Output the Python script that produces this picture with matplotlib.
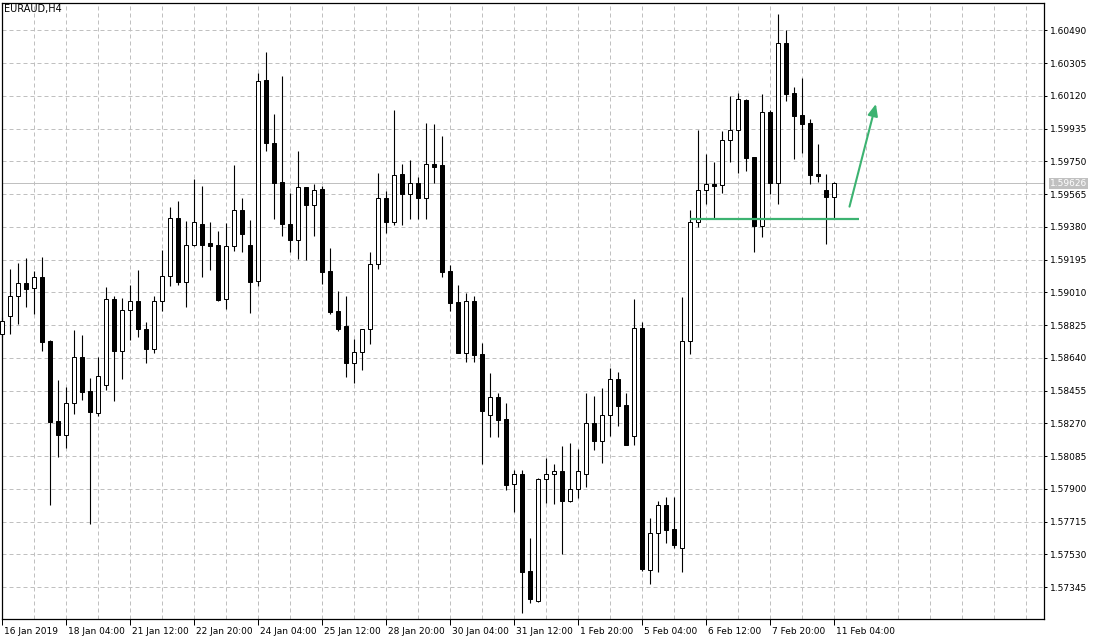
import matplotlib
matplotlib.use('Agg')
import matplotlib.pyplot as plt
from matplotlib.patches import Rectangle
import matplotlib.transforms as mtransforms

# ---------------- data ----------------
symbol = "EURAUD,H4"
time_labels = ["16 Jan 2019", "18 Jan 04:00", "21 Jan 12:00", "22 Jan 20:00", "24 Jan 04:00",
               "25 Jan 12:00", "28 Jan 20:00", "30 Jan 04:00", "31 Jan 12:00", "1 Feb 20:00",
               "5 Feb 04:00", "6 Feb 12:00", "7 Feb 20:00", "11 Feb 04:00"]
price_levels = [1.60490, 1.60305, 1.60120, 1.59935, 1.59750, 1.59565, 1.59380, 1.59195, 1.59010,
                1.58825, 1.58640, 1.58455, 1.58270, 1.58085, 1.57900, 1.57715, 1.57530, 1.57345]
current_price = 1.59626
support_level = 1.59424

opens = [1.58773, 1.58878, 1.58987, 1.59061, 1.59033, 1.59095, 1.58735, 1.58281, 1.58206, 1.58383,
         1.58643, 1.58451, 1.58330, 1.58486, 1.58970, 1.58677, 1.58908, 1.58959, 1.58801, 1.58691,
         1.58959, 1.59100, 1.59428, 1.59070, 1.59275, 1.59394, 1.59288, 1.59275, 1.58970, 1.59270,
         1.59473, 1.59275, 1.59072, 1.60208, 1.59852, 1.59631, 1.59394, 1.59307, 1.59603, 1.59505,
         1.59592, 1.59130, 1.58903, 1.58820, 1.58612, 1.58671, 1.58801, 1.59168, 1.59541, 1.59409,
         1.59677, 1.59567, 1.59626, 1.59544, 1.59733, 1.59727, 1.59129, 1.58955, 1.58669, 1.58959,
         1.58660, 1.58315, 1.58417, 1.58293, 1.57925, 1.57982, 1.57434, 1.57264, 1.57954, 1.57982,
         1.57999, 1.57829, 1.57897, 1.57982, 1.58270, 1.58172, 1.58315, 1.58519, 1.58372, 1.58197,
         1.58807, 1.57443, 1.57649, 1.57807, 1.57671, 1.57567, 1.58733, 1.59405, 1.59586, 1.59620,
         1.59614, 1.59869, 1.59925, 1.60095, 1.59773, 1.59386, 1.60027, 1.59629, 1.60417, 1.60134,
         1.60010, 1.59965, 1.59678, 1.59586, 1.59547]
highs = [1.58870, 1.59142, 1.59176, 1.59202, 1.59130, 1.59209, 1.58740, 1.58515, 1.58473, 1.58797,
         1.58769, 1.58528, 1.58643, 1.59040, 1.58989, 1.58978, 1.59051, 1.59134, 1.58841, 1.58987,
         1.59249, 1.59492, 1.59526, 1.59411, 1.59650, 1.59609, 1.59405, 1.59355, 1.59400, 1.59727,
         1.59543, 1.59417, 1.60249, 1.60366, 1.60017, 1.60232, 1.59569, 1.59808, 1.59607, 1.59620,
         1.59610, 1.59259, 1.59017, 1.58989, 1.58746, 1.58805, 1.59238, 1.59682, 1.59584, 1.60040,
         1.59735, 1.59756, 1.59661, 1.59966, 1.59961, 1.59893, 1.59164, 1.59051, 1.59004, 1.58987,
         1.58722, 1.58554, 1.58439, 1.58383, 1.58006, 1.58006, 1.57622, 1.57959, 1.58072, 1.58038,
         1.58140, 1.58157, 1.58123, 1.58439, 1.58422, 1.58468, 1.58581, 1.58558, 1.58439, 1.58972,
         1.58841, 1.57733, 1.57831, 1.57854, 1.57854, 1.58983, 1.59475, 1.59927, 1.59791, 1.59746,
         1.59921, 1.60119, 1.60134, 1.60100, 1.59775, 1.60128, 1.60040, 1.60582, 1.60490, 1.60168,
         1.60219, 1.59989, 1.59848, 1.59678, 1.59631]
lows = [1.58757, 1.58776, 1.58833, 1.58929, 1.58889, 1.58680, 1.57808, 1.58081, 1.58130, 1.58324,
        1.58402, 1.57703, 1.58311, 1.58458, 1.58396, 1.58522, 1.58741, 1.58756, 1.58612, 1.58669,
        1.58906, 1.59047, 1.59053, 1.58929, 1.59270, 1.59098, 1.59138, 1.58961, 1.58916, 1.59245,
        1.59239, 1.58895, 1.59047, 1.59810, 1.59426, 1.59330, 1.59239, 1.59198, 1.59194, 1.59330,
        1.59055, 1.58887, 1.58793, 1.58533, 1.58499, 1.58571, 1.58720, 1.59143, 1.59347, 1.59392,
        1.59392, 1.59426, 1.59426, 1.59426, 1.59626, 1.59098, 1.58904, 1.58665, 1.58618, 1.58618,
        1.58040, 1.58194, 1.58194, 1.57893, 1.57771, 1.57197, 1.57257, 1.57260, 1.57818, 1.57812,
        1.57532, 1.57824, 1.57850, 1.57912, 1.58121, 1.58047, 1.58200, 1.58256, 1.58146, 1.58149,
        1.57436, 1.57362, 1.57432, 1.57595, 1.57566, 1.57432, 1.58663, 1.59381, 1.59509, 1.59430,
        1.59571, 1.59748, 1.59686, 1.59697, 1.59239, 1.59324, 1.59565, 1.59510, 1.60092, 1.59765,
        1.59799, 1.59623, 1.59635, 1.59281, 1.59428]
closes = [1.58848, 1.58987, 1.59061, 1.59030, 1.59095, 1.58731, 1.58279, 1.58206, 1.58383, 1.58643,
          1.58449, 1.58334, 1.58535, 1.58970, 1.58680, 1.58908, 1.58959, 1.58801, 1.58691, 1.58959,
          1.59100, 1.59428, 1.59070, 1.59275, 1.59405, 1.59279, 1.59273, 1.58966, 1.59270, 1.59473,
          1.59341, 1.59070, 1.60206, 1.59855, 1.59629, 1.59394, 1.59307, 1.59603, 1.59505, 1.59590,
          1.59126, 1.58900, 1.58804, 1.58612, 1.58671, 1.58801, 1.59168, 1.59541, 1.59409, 1.59671,
          1.59567, 1.59626, 1.59544, 1.59733, 1.59720, 1.59125, 1.58951, 1.58669, 1.58959, 1.58657,
          1.58341, 1.58417, 1.58290, 1.57923, 1.57982, 1.57432, 1.57276, 1.57954, 1.57982, 1.57999,
          1.57829, 1.57897, 1.57999, 1.58270, 1.58172, 1.58315, 1.58519, 1.58369, 1.58149, 1.58807,
          1.57449, 1.57649, 1.57807, 1.57669, 1.57584, 1.58733, 1.59405, 1.59586, 1.59620, 1.59610,
          1.59869, 1.59925, 1.60100, 1.59770, 1.59387, 1.60027, 1.59629, 1.60417, 1.60132, 1.60008,
          1.59962, 1.59674, 1.59669, 1.59547, 1.59626]

# ---------------- layout ----------------
W, H = 1098, 640
L_PX, R_PX, T_PX, B_PX = 2.3, 1044.0, 2.5, 619.0
BAR_PX = 8.0
GRID_PX = 32.75  # pixels between price levels
step = price_levels[0] - price_levels[1]
ppp = step / GRID_PX
TOP_LEVEL_PX = 30.3

fig = plt.figure(figsize=(W / 100, H / 100), dpi=100)
fig.patch.set_facecolor('white')
ax = fig.add_axes([L_PX / W, 1 - B_PX / H, (R_PX - L_PX) / W, (B_PX - T_PX) / H])
ax.set_facecolor('white')
ax.set_xlim(0, (R_PX - L_PX) / BAR_PX)
ax.set_ylim(price_levels[0] - (B_PX - TOP_LEVEL_PX) * ppp,
            price_levels[0] + (TOP_LEVEL_PX - T_PX) * ppp)

grid_color = '#c0c0c0'
for p in price_levels:
    ax.axhline(p, color=grid_color, lw=0.72, ls=(0, (4, 3)), zorder=0)
for i in range(0, 131, 4):
    ax.axvline(i, color=grid_color, lw=0.72, ls=(0, (4, 3)), zorder=0)
ax.axhline(current_price, color=grid_color, lw=0.72, zorder=1)

# candles
bw = 0.5
for i, (o, h, l, c) in enumerate(zip(opens, highs, lows, closes)):
    ax.vlines(i, l, h, color='black', lw=0.8, zorder=2, clip_on=False)
    up = c >= o
    ax.add_patch(Rectangle((i - bw / 2, min(o, c)), bw, abs(c - o),
                           facecolor='white' if up else 'black', edgecolor='black',
                           lw=0.72, zorder=3, clip_on=False))

# support line and arrow
green = '#3cb371'
ax.plot([85.96, 107.1], [support_level, support_level], color=green, lw=1.6, zorder=4,
        solid_capstyle='butt')
ax.annotate('', xy=(109.2, 1.60074), xytext=(105.9, 1.59494),
            arrowprops=dict(arrowstyle='-|>,head_length=0.7,head_width=0.3', color=green,
                            lw=1.5, shrinkA=0, shrinkB=0), zorder=4)

# spines
for s in ax.spines.values():
    s.set_color('black')
    s.set_linewidth(0.9)

# y axis on the right
ax.yaxis.tick_right()
ax.set_yticks(price_levels)
ax.set_yticklabels([f"{p:.5f}" for p in price_levels])
ax.tick_params(axis='y', which='major', length=2.5, width=0.72, pad=2, labelsize=6.5,
               colors='black', left=False, right=True)

# x axis labels
ax.set_xticks(list(range(0, 8 * len(time_labels), 8)))
ax.set_xticklabels(time_labels, ha='left')
ax.tick_params(axis='x', which='major', length=4, width=0.72, pad=1.5, labelsize=6.5,
               colors='black')
off = mtransforms.ScaledTranslation(2 / 100, 0, fig.dpi_scale_trans)
for lab in ax.get_xticklabels():
    lab.set_transform(lab.get_transform() + off)

# current price tag
trans = mtransforms.blended_transform_factory(ax.transAxes, ax.transData)
tag_off = mtransforms.ScaledTranslation(5.8 / 100, 0, fig.dpi_scale_trans)
ax.text(1.0, current_price, f"{current_price:.5f}", transform=trans + tag_off,
        ha='left', va='center', fontsize=6.5, color='white', zorder=6, clip_on=False,
        bbox=dict(boxstyle='square,pad=0.12', fc=grid_color, ec='none'))

fig.text(4 / W, 1 - 9 / H, symbol, fontsize=7, ha='left', va='center', color='black')

fig.savefig('out.png', dpi=100, facecolor='white')
